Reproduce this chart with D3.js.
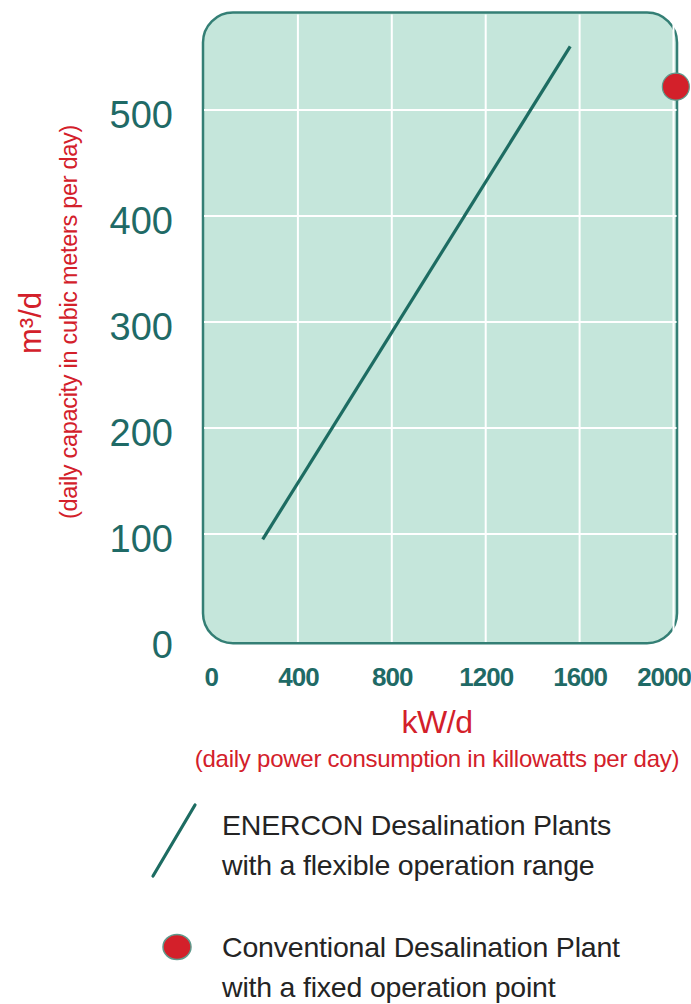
<!DOCTYPE html>
<html>
<head>
<meta charset="utf-8">
<script src="https://cdn.jsdelivr.net/npm/d3@7"></script>
<style>
  body { margin: 0; background: #fff; }
  svg { display: block; }
</style>
</head>
<body>
<svg id="chart" width="691" height="1004"></svg>
<script>
// values
const xTicks = [0, 400, 800, 1200, 1600, 2000];
const yTicks = [0, 100, 200, 300, 400, 500];
const enerconLine = [{ kw: 250, m3: 95 }, { kw: 1560, m3: 560 }];
const conventional = [{ kw: 2010, m3: 522 }];
const legendItems = [
  ['ENERCON Desalination Plants', 'with a flexible operation range'],
  ['Conventional Desalination Plant', 'with a fixed operation point']
];

const teal = '#1d6c62';
const red = '#d3202a';
const sans = '"Liberation Sans", Arial, sans-serif';

const svg = d3.select('#chart');

const x = d3.scaleLinear().domain([0, 2000]).range([204, 673.5]);
const y = d3.scaleLinear().domain([0, 500]).range([640, 110]);

// plot box
svg.append('rect')
  .attr('x', x(0) - 1)
  .attr('y', y(592))
  .attr('width', x(2015) - x(0) + 1)
  .attr('height', y(-3) - y(592))
  .attr('rx', 30)
  .attr('fill', '#c5e6db')
  .attr('stroke', '#347f75')
  .attr('stroke-width', 2.5);

// grid
const grid = svg.append('g').attr('stroke', '#fff').attr('stroke-width', 2);
grid.selectAll('line.v')
  .data(xTicks.slice(1))
  .join('line')
  .attr('class', 'v')
  .attr('x1', d => x(d)).attr('x2', d => x(d))
  .attr('y1', y(590)).attr('y2', y(-2));
grid.selectAll('line.h')
  .data(yTicks.slice(1))
  .join('line')
  .attr('class', 'h')
  .attr('x1', x(0)).attr('x2', x(2013))
  .attr('y1', d => y(d)).attr('y2', d => y(d));

// axes (labels only)
const yAxis = svg.append('g')
  .attr('transform', `translate(${x(0)},0)`)
  .call(d3.axisLeft(y).tickValues(yTicks).tickSize(0).tickPadding(31));
yAxis.select('.domain').remove();
yAxis.selectAll('text')
  .attr('dy', '0.45em')
  .attr('fill', '#1f6a66')
  .style('font', '38px ' + sans);

const xAxis = svg.append('g')
  .attr('transform', `translate(0,${y(0)})`)
  .call(d3.axisBottom(x).tickValues(xTicks).tickSize(0).tickPadding(28).tickFormat(d3.format('d')));
xAxis.select('.domain').remove();
xAxis.selectAll('text')
  .attr('fill', '#1f6a66')
  .style('font-family', sans)
  .style('font-weight', 'bold')
  .style('font-size', '26px')
  .style('letter-spacing', '-1px')
  .attr('text-anchor', d => d === 0 ? 'start' : d === 2000 ? 'end' : 'middle')
  .attr('dx', d => d === 0 ? 0 : d === 2000 ? 17 : 0);

// axis titles
svg.append('text')
  .attr('transform', 'translate(41,323) rotate(-90)')
  .attr('text-anchor', 'middle')
  .attr('fill', red)
  .style('font', '31px ' + sans)
  .text('m³/d');
svg.append('text')
  .attr('transform', 'translate(77,322) rotate(-90)')
  .attr('text-anchor', 'middle')
  .attr('fill', red)
  .style('font', '23.5px ' + sans)
  .style('letter-spacing', '-0.3px')
  .text('(daily capacity in cubic meters per day)');
svg.append('text')
  .attr('x', 437).attr('y', 733)
  .attr('text-anchor', 'middle')
  .attr('fill', red)
  .style('font', '32px ' + sans)
  .style('letter-spacing', '-0.5px')
  .text('kW/d');
svg.append('text')
  .attr('x', 437).attr('y', 767)
  .attr('text-anchor', 'middle')
  .attr('fill', red)
  .style('font', '24px ' + sans)
  .style('letter-spacing', '-0.25px')
  .text('(daily power consumption in killowatts per day)');

// data marks
const line = d3.line().x(d => x(d.kw)).y(d => y(d.m3));
svg.append('path')
  .datum(enerconLine)
  .attr('d', line)
  .attr('fill', 'none')
  .attr('stroke', teal)
  .attr('stroke-width', 3.2);

svg.selectAll('circle.conv')
  .data(conventional)
  .join('circle')
  .attr('class', 'conv')
  .attr('cx', d => x(d.kw))
  .attr('cy', d => y(d.m3))
  .attr('r', 13.5)
  .attr('fill', red)
  .attr('stroke', '#5f9a8c')
  .attr('stroke-width', 1.2);

// legend
const legend = svg.append('g');
legend.append('line')
  .attr('x1', 153).attr('y1', 876)
  .attr('x2', 195).attr('y2', 805)
  .attr('stroke', teal)
  .attr('stroke-width', 3.2)
  .attr('stroke-linecap', 'round');
legend.append('ellipse')
  .attr('cx', 177).attr('cy', 947)
  .attr('rx', 14).attr('ry', 12.5)
  .attr('fill', red)
  .attr('stroke', '#5f9a8c')
  .attr('stroke-width', 1.5);

const rows = [835, 957];
legendItems.forEach((lines, i) => {
  const t = legend.append('text')
    .attr('x', 222).attr('y', rows[i])
    .attr('fill', '#242424')
    .style('font-family', sans)
    .style('font-size', '28.5px')
    .style('letter-spacing', '-0.2px');
  lines.forEach((s, j) => {
    t.append('tspan').attr('x', 222).attr('dy', j === 0 ? 0 : 40).text(s);
  });
});
</script>
</body>
</html>
